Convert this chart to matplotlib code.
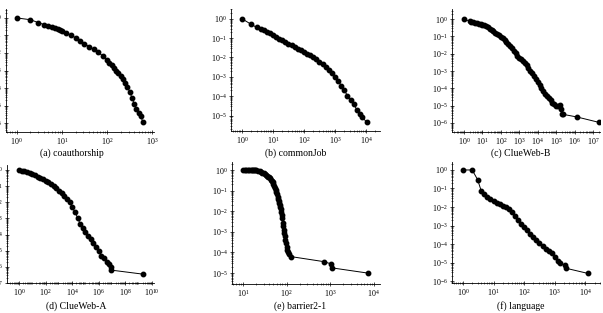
import matplotlib
matplotlib.use("Agg")
import matplotlib.pyplot as plt
from matplotlib.ticker import LogLocator, NullFormatter

plt.rcParams["font.family"] = ["Liberation Serif", "DejaVu Serif"]
plt.rcParams["mathtext.fontset"] = "stix"

# complementary cumulative degree distributions
coauth_x = [1, 2, 3, 4, 5, 6, 7, 8, 9, 10, 12.6, 15.8, 20, 25.1, 31.6, 39.8, 50.1, 63.1,
            79.4, 100, 112, 126, 141, 158, 178, 200, 224, 251, 282, 316, 355, 398, 447,
            501, 562, 617]
coauth_y = [1, .79, .54, .42, .35, .30, .25, .224, .2, .178, .138, .105, .074, .050, .034,
            .0234, .0158, .0107, .0071, .004, .0028, .002, .0014, .001, 7.1e-4, 5e-4,
            3.2e-4, 2e-4, 1.12e-4, 6.3e-5, 2.8e-5, 1.26e-5, 6.3e-6, 4e-6, 2.5e-6, 1.15e-6]

job_x = [1, 2, 3, 4, 5.01, 6.31, 7.94, 10, 12.6, 15.8, 20, 25.1, 31.6, 39.8, 50.1, 63.1,
         79.4, 100, 126, 158, 200, 251, 316, 398, 501, 631, 794, 1000, 1259, 1585, 1995,
         2512, 3162, 3981, 5012, 6310, 7244, 10471]
job_y = [1, .51, .355, .295, .25, .214, .174, .141, .115, .093, .078, .063, .051, .042,
         .035, .028, .0234, .019, .0155, .0126, .01, .0079, .006, .0045, .0032, .0022,
         .0016, .001, 6.3e-4, 3.5e-4, 2e-4, 1.07e-4, 6.3e-5, 4e-5, 2e-5, 1.26e-5, 8.7e-6,
         4.6e-6]

cwb_x = [1, 2, 2.51, 3.16, 3.98, 5.01, 6.31, 7.94, 10, 12.6, 15.8, 20, 25.1, 31.6, 39.8,
         50.1, 63.1, 79.4, 100, 126, 158, 200, 251, 316, 398, 501, 631, 794, 1000, 1259,
         1585, 1995, 2512, 3162, 3981, 5012, 6310, 7943, 1e4, 1.26e4, 1.58e4, 2e4, 2.51e4,
         3.16e4, 3.98e4, 5.01e4, 6.31e4, 7.94e4, 1e5, 1.26e5, 1.58e5, 1.9e5, 2e5, 2.24e5,
         1.41e6, 2e7]
cwb_y = [1, .76, .72, .68, .63, .59, .55, .51, .47, .43, .38, .33, .28, .24, .2, .166,
         .138, .115, .093, .076, .06, .048, .038, .028, .02, .0148, .0107, .0076, .006,
         .0047, .0036, .0028, .0022, .00155, .00107, 7.4e-4, 5e-4, 3.5e-4, 2.4e-4, 1.6e-4,
         1.07e-4, 7.1e-5, 5e-5, 3.5e-5, 2.6e-5, 2e-5, 1.5e-5, 1.2e-5, 1e-5, 9.3e-6,
         1.07e-5, 6.3e-6, 3.5e-6, 3.2e-6, 2.2e-6, 1.1e-6]

cwa_x = [1, 1.58, 2.51, 3.98, 6.31, 10, 15.8, 25.1, 39.8, 63.1, 100, 158, 251, 398, 631,
         1000, 1585, 2512, 3981, 6310, 1e4, 1.58e4, 2.51e4, 3.98e4, 6.31e4, 1e5, 1.58e5,
         2.51e5, 3.98e5, 6.31e5, 1e6, 1.58e6, 2.51e6, 3.98e6, 6.31e6, 7.94e6, 8.32e6, 2.24e9]
cwa_y = [1, .89, .81, .74, .66, .55, .46, .38, .31, .257, .209, .17, .135, .105, .076,
         .052, .035, .024, .0158, .01, .005, .0025, .00112, 4.5e-4, 2.4e-4, 1.35e-4,
         8.5e-5, 5e-5, 3.2e-5, 1.8e-5, 1e-5, 5e-6, 3.5e-6, 2e-6, 1.4e-6, 1e-6, 6.3e-7, 3.5e-7]

bar_x = [10, 11, 12, 13, 14, 15, 16, 17, 18, 19, 20, 22, 24, 26, 28, 30, 32, 34, 36, 38,
         40, 42, 44, 46, 48, 50, 52, 54, 56, 58, 60, 62, 64, 66, 68, 70, 72, 74, 76, 78,
         80, 82, 84, 86, 88, 90, 93, 96, 100, 105, 110, 116, 126, 708, 1047, 1072, 7244]
bar_y = [1, 1, 1, 1, 1, 1, 1, .99, .98, .97, .955, .9, .85, .8, .72, .68, .62, .56, .52,
         .48, .44, .39, .34, .3, .25, .2, .166, .135, .107, .087, .066, .051, .04, .032,
         .025, .02, .0158, .0129, .0089, .0063, .0045, .0028, .002, .00126, 8.9e-4, 6.3e-4,
         4e-4, 2.8e-4, 1.78e-4, 1.26e-4, 1e-4, 8.3e-5, 6.3e-5, 3.6e-5, 2.8e-5, 1.8e-5, 1e-5]

lang_x = [1, 2, 3, 4, 5, 6.3, 7.9, 10, 12.6, 15.8, 20, 25.1, 31.6, 39.8, 50.1, 63.1, 79.4,
          100, 126, 158, 200, 251, 316, 398, 501, 631, 794, 1000, 1259, 1479, 2138, 2291,
          12303]
lang_y = [1, 1, .3, .069, .048, .035, .027, .021, .017, .014, .0117, .0095, .0076, .0054,
          .0033, .002, .00126, 8.3e-4, 5.6e-4, 3.7e-4, 2.5e-4, 1.7e-4, 1.12e-4, 7.6e-5,
          5.2e-5, 4e-5, 3.2e-5, 2.1e-5, 1.26e-5, 9.1e-6, 7.2e-6, 5e-6, 2.6e-6]

captions = ["(a) coauthorship", "(b) commonJob", "(c) ClueWeb-B",
            "(d) ClueWeb-A", "(e) barrier2-1", "(f) language"]

W, H = 603, 313
fig = plt.figure(figsize=(W / 100, H / 100), dpi=100)


def box(l, t, r, b):
    return [l / W, 1 - b / H, (r - l) / W, (b - t) / H]


panels = [
    # data, axes box (px), xlim exp, ylim exp, xticks exp, yticks exp, caption pos
    (coauth_x, coauth_y, (6, 9, 154, 132), (-0.24, 3.04), (-6.51, 0.51), range(0, 4), range(-6, 1), (72, 153)),
    (job_x, job_y, (231, 9, 380, 131), (-0.35, 4.45), (-5.8, 0.5), range(0, 5), range(-5, 1), (296, 153)),
    (cwb_x, cwb_y, (452, 9, 600, 132), (-0.65, 7.38), (-6.52, 0.58), range(0, 8), range(-6, 1), (521, 153)),
    (cwa_x, cwa_y, (7, 165, 154, 283), (-0.9, 10.15), (-7.0, 0.3), range(0, 11, 2), range(-7, 1), (76, 306)),
    (bar_x, bar_y, (232, 162, 380, 284), (0.75, 4.14), (-5.53, 0.39), range(1, 5), range(-5, 1), (300, 306)),
    (lang_x, lang_y, (452, 162, 600, 283), (-0.36, 4.48), (-6.1, 0.43), range(0, 5), range(-6, 1), (521, 306)),
]

for (xs, ys, bx, xl, yl, xt, yt, cap), text in zip(panels, captions):
    ax = fig.add_axes(box(*bx))
    ax.loglog(xs, ys, "-o", color="black", lw=0.7, ms=3.2, mec="black", mfc="black")
    ax.set_xlim(10 ** xl[0], 10 ** xl[1])
    ax.set_ylim(10 ** yl[0], 10 ** yl[1])
    ax.set_xticks([10.0 ** e for e in xt])
    ax.set_yticks([10.0 ** e for e in yt])
    ax.xaxis.set_minor_locator(LogLocator(subs=range(2, 10), numticks=50))
    ax.yaxis.set_minor_locator(LogLocator(subs=range(2, 10), numticks=50))
    ax.xaxis.set_minor_formatter(NullFormatter())
    ax.yaxis.set_minor_formatter(NullFormatter())
    for s in ["top", "right"]:
        ax.spines[s].set_visible(False)
    for s in ["left", "bottom"]:
        ax.spines[s].set_linewidth(0.6)
    ax.tick_params(which="major", direction="inout", length=3, width=0.5, labelsize=5.8, pad=1.5)
    ax.tick_params(which="minor", direction="inout", length=1.6, width=0.4)
    fig.text(cap[0] / W, 1 - cap[1] / H, text, ha="center", va="center", fontsize=7)

fig.savefig("out.png", dpi=100)
